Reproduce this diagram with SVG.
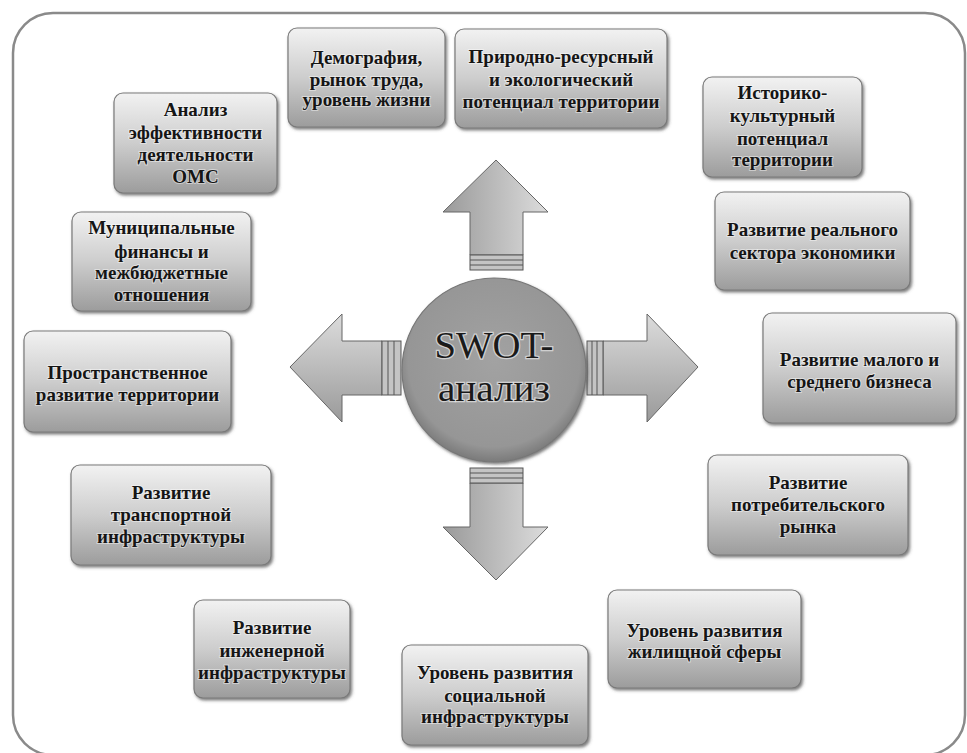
<svg xmlns="http://www.w3.org/2000/svg" width="967" height="753" viewBox="0 0 967 753">
<defs>
<linearGradient id="boxg" x1="0" y1="0" x2="0" y2="1">
<stop offset="0" stop-color="#f2f2f2"/>
<stop offset="0.5" stop-color="#cdcdcd"/>
<stop offset="1" stop-color="#9c9c9c"/>
</linearGradient>
<linearGradient id="arrV" x1="0" y1="0" x2="1" y2="0">
<stop offset="0" stop-color="#9a9a9a"/>
<stop offset="1" stop-color="#dcdcdc"/>
</linearGradient>
<linearGradient id="arrH" x1="0" y1="0" x2="0" y2="1">
<stop offset="0" stop-color="#dcdcdc"/>
<stop offset="1" stop-color="#9a9a9a"/>
</linearGradient>
<radialGradient id="circg" cx="0.5" cy="0.45" r="0.55">
<stop offset="0" stop-color="#a2a2a2"/>
<stop offset="0.85" stop-color="#969696"/>
<stop offset="1" stop-color="#7a7a7a"/>
</radialGradient>
<filter id="sh" x="-10%" y="-10%" width="125%" height="130%">
<feDropShadow dx="1.5" dy="2" stdDeviation="1.5" flood-color="#444" flood-opacity="0.7"/>
</filter>
</defs>
<style>
.frame{fill:none;stroke:#8a8a8a;stroke-width:2.5}
.box{fill:url(#boxg);stroke:#7a7a7a;stroke-width:1.2;filter:url(#sh)}
.t{font-family:"Liberation Serif","Times New Roman",serif;font-weight:bold;font-size:19px;fill:#151515;text-anchor:middle;stroke:#ffffff;stroke-width:2;stroke-opacity:0.45;paint-order:stroke}
.av{fill:url(#arrV);stroke:#666;stroke-width:1}
.ah{fill:url(#arrH);stroke:#666;stroke-width:1}
.band{fill:#c4c4c4;stroke:#555;stroke-width:1}
.bl{stroke:#555;stroke-width:1}
.big{font-family:"Liberation Serif","Times New Roman",serif;font-size:37px;fill:#1a1a1a;text-anchor:middle;stroke:#e8e8e8;stroke-width:2.5;stroke-opacity:0.7;paint-order:stroke}
</style>
<rect x="0" y="0" width="967" height="753" fill="#ffffff"/>
<rect class="frame" x="13" y="13" width="952" height="742" rx="40"/>

<g id="connectors">
<path class="av" d="M496,160 L548,212 L523,212 L523,255 L470,255 L470,212 L443,212 Z"/>
<rect class="band" x="470" y="255" width="53" height="15"/>
<line class="bl" x1="470" y1="260" x2="523" y2="260"/>
<line class="bl" x1="470" y1="265" x2="523" y2="265"/>
<path class="av" d="M496,580 L548,527 L523,527 L523,483 L470,483 L470,527 L443,527 Z"/>
<rect class="band" x="470" y="468" width="53" height="15"/>
<line class="bl" x1="470" y1="473" x2="523" y2="473"/>
<line class="bl" x1="470" y1="478" x2="523" y2="478"/>
<path class="ah" d="M290,367 L342,314 L342,341 L382,341 L382,395 L342,395 L342,422 Z"/>
<rect class="band" x="382" y="341" width="19" height="54"/>
<line class="bl" x1="388" y1="341" x2="388" y2="395"/>
<line class="bl" x1="394" y1="341" x2="394" y2="395"/>
<path class="ah" d="M698,367 L647,314 L647,341 L603,341 L603,395 L647,395 L647,422 Z"/>
<rect class="band" x="587" y="341" width="16" height="54"/>
<line class="bl" x1="592" y1="341" x2="592" y2="395"/>
<line class="bl" x1="597" y1="341" x2="597" y2="395"/>
</g>

<g id="center">
<circle cx="494" cy="370" r="92" fill="url(#circg)" stroke="#777" stroke-width="1.2" filter="url(#sh)"/>
<text class="big" x="494" y="358" textLength="119" lengthAdjust="spacingAndGlyphs">SWOT-</text>
<text class="big" x="494" y="401" textLength="112" lengthAdjust="spacingAndGlyphs">анализ</text>
</g>

<g id="n1"><rect class="box" x="114" y="93" width="163" height="100" rx="9"/>
<text class="t" x="195.5" y="116">Анализ</text><text class="t" x="195.5" y="139">эффективности</text><text class="t" x="195.5" y="161">деятельности</text><text class="t" x="195.5" y="183">ОМС</text></g>

<g id="n2"><rect class="box" x="288" y="28" width="157" height="99" rx="9"/>
<text class="t" x="366.5" y="64">Демография,</text><text class="t" x="366.5" y="86">рынок труда,</text><text class="t" x="366.5" y="106">уровень жизни</text></g>

<g id="n3"><rect class="box" x="455" y="29" width="212" height="99" rx="9"/>
<text class="t" x="561" y="63">Природно-ресурсный</text><text class="t" x="561" y="86">и экологический</text><text class="t" x="561" y="108">потенциал территории</text></g>

<g id="n4"><rect class="box" x="703" y="77" width="159" height="100" rx="9"/>
<text class="t" x="782.5" y="99">Историко-</text><text class="t" x="782.5" y="122">культурный</text><text class="t" x="782.5" y="145">потенциал</text><text class="t" x="782.5" y="166">территории</text></g>

<g id="n5"><rect class="box" x="715" y="192" width="195" height="98" rx="9"/>
<text class="t" x="812.5" y="236">Развитие реального</text><text class="t" x="812.5" y="259">сектора экономики</text></g>

<g id="n6"><rect class="box" x="763" y="313" width="193" height="110" rx="9"/>
<text class="t" x="859.5" y="366">Развитие малого и</text><text class="t" x="859.5" y="388">среднего бизнеса</text></g>

<g id="n7"><rect class="box" x="708" y="455" width="200" height="100" rx="9"/>
<text class="t" x="808" y="489">Развитие</text><text class="t" x="808" y="511">потребительского</text><text class="t" x="808" y="533">рынка</text></g>

<g id="n8"><rect class="box" x="608" y="590" width="193" height="98" rx="9"/>
<text class="t" x="704.5" y="637">Уровень развития</text><text class="t" x="704.5" y="658">жилищной сферы</text></g>

<g id="n9"><rect class="box" x="402" y="645" width="186" height="100" rx="9"/>
<text class="t" x="495" y="679">Уровень развития</text><text class="t" x="495" y="702">социальной</text><text class="t" x="495" y="723">инфраструктуры</text></g>

<g id="n10"><rect class="box" x="194" y="600" width="156" height="98" rx="9"/>
<text class="t" x="272" y="634">Развитие</text><text class="t" x="272" y="657">инженерной</text><text class="t" x="272" y="679">инфраструктуры</text></g>

<g id="n11"><rect class="box" x="71" y="465" width="200" height="100" rx="9"/>
<text class="t" x="171" y="499">Развитие</text><text class="t" x="171" y="521">транспортной</text><text class="t" x="171" y="543">инфраструктуры</text></g>

<g id="n12"><rect class="box" x="24" y="331" width="207" height="101" rx="9"/>
<text class="t" x="127.5" y="379">Пространственное</text><text class="t" x="127.5" y="401">развитие территории</text></g>

<g id="n13"><rect class="box" x="72" y="212" width="179" height="99" rx="9"/>
<text class="t" x="161.5" y="234">Муниципальные</text><text class="t" x="161.5" y="258">финансы и</text><text class="t" x="161.5" y="279">межбюджетные</text><text class="t" x="161.5" y="301">отношения</text></g>
</svg>
